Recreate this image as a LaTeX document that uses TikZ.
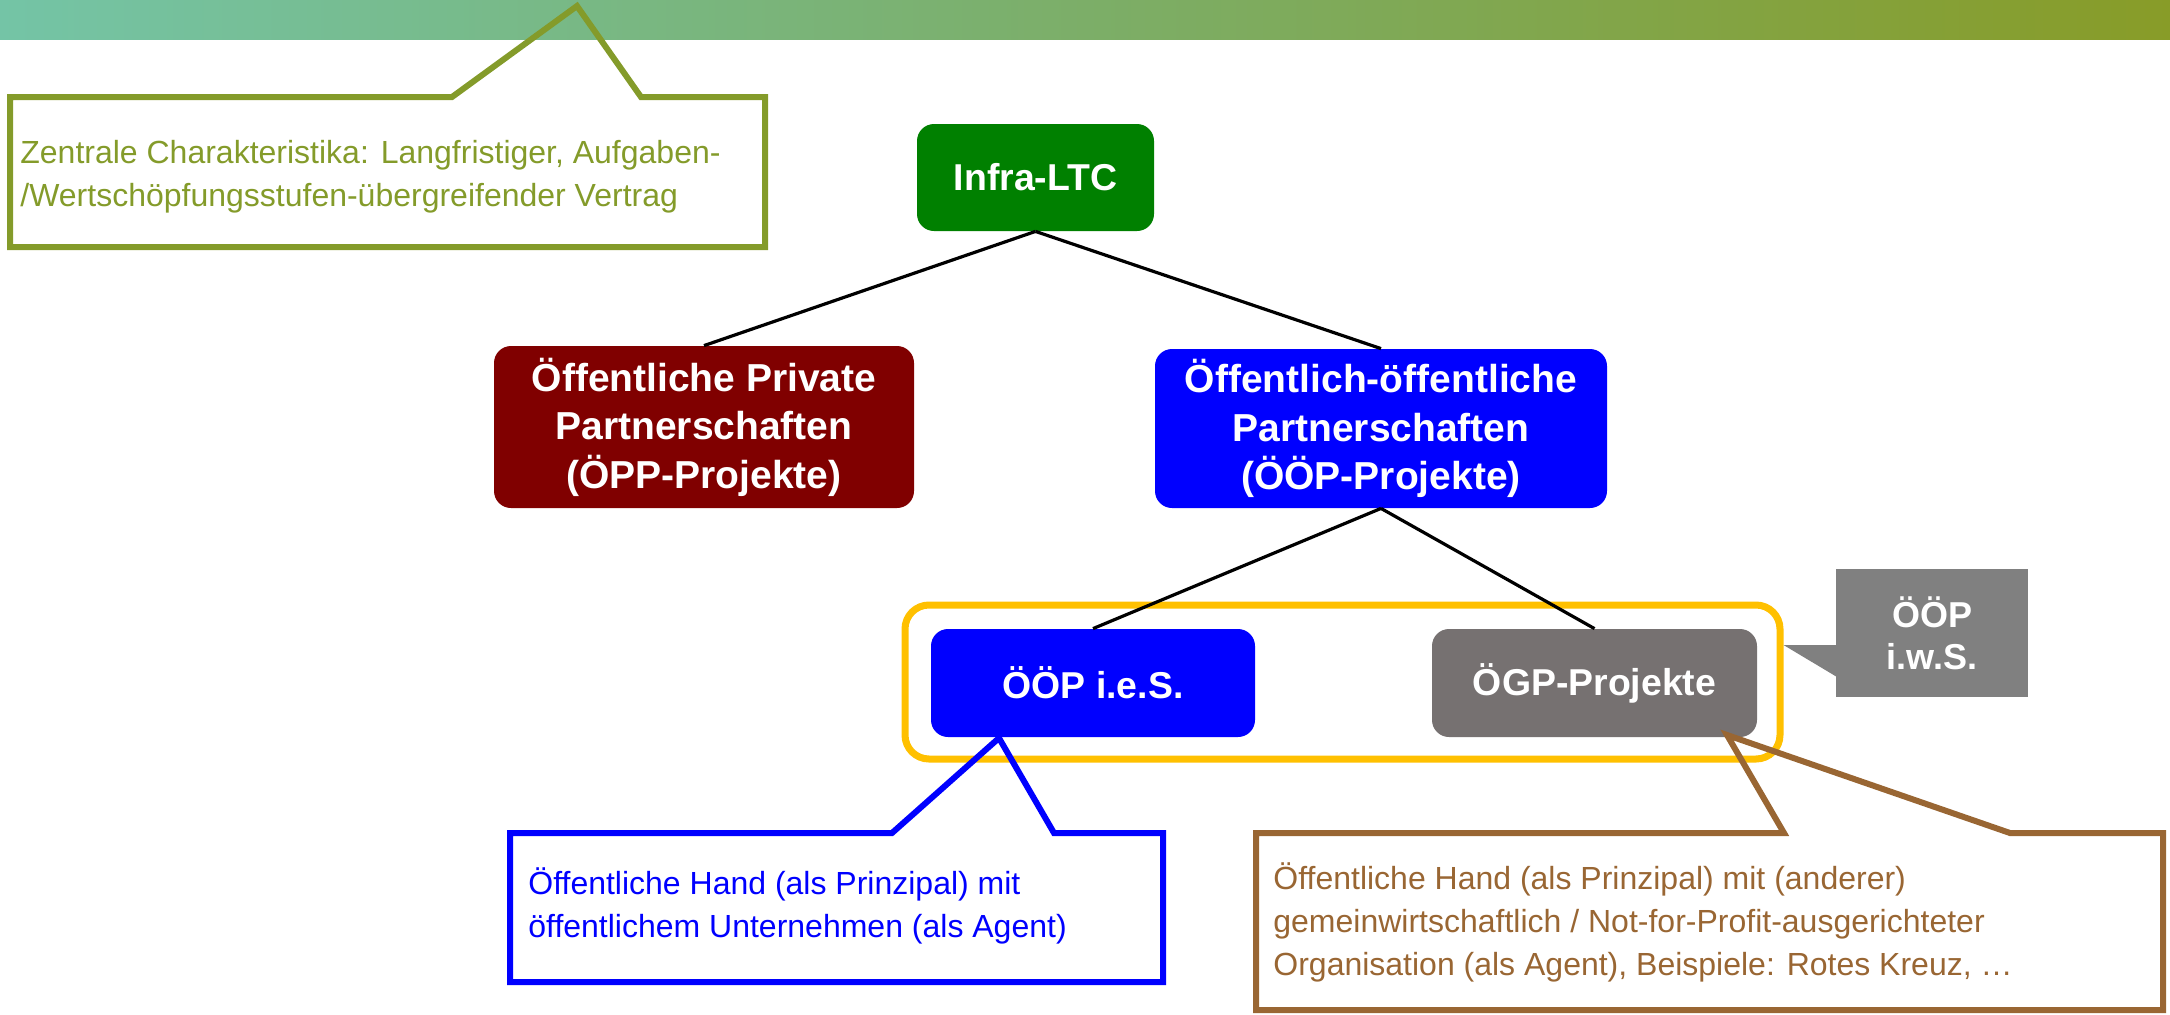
\documentclass[tikz,border=0pt]{standalone}
\usepackage{fontspec}
\setmainfont{Liberation Sans}
\definecolor{barL}{RGB}{116,196,166}
\definecolor{barM}{RGB}{124,174,104}
\definecolor{barR}{RGB}{136,156,40}
\definecolor{olivec}{RGB}{132,155,42}
\definecolor{infragreen}{RGB}{0,128,0}
\definecolor{maroonc}{RGB}{128,0,0}
\definecolor{bluec}{RGB}{0,0,255}
\definecolor{grayboxc}{RGB}{118,113,113}
\definecolor{graycallc}{RGB}{128,128,128}
\definecolor{yellowc}{RGB}{255,192,0}
\definecolor{brownc}{RGB}{153,102,51}
\begin{document}
\begin{tikzpicture}[x=0.5pt,y=-0.5pt,
  boxnode/.style={rounded corners=8.5pt, text=white, align=center, inner sep=0pt,
    font=\bfseries\fontsize{18.7}{24}\selectfont},
  bigbox/.style={boxnode, font=\bfseries\fontsize{19.5}{24.2}\selectfont},
  conn/.style={line width=1.6pt, black},
  callout/.style={line width=3pt, line join=miter},
  calltext/.style={anchor=west, align=left, inner sep=0pt, font=\fontsize{16}{21.5}\selectfont}]
\useasboundingbox (0,0) rectangle (2170,1014);
% top bar
\shade[left color=barL, right color=barR, middle color=barM] (0,0) rectangle (2170,39);
% main nodes
\node[boxnode, fill=infragreen, minimum width=118.5pt, minimum height=53.5pt] (infra) at (1035.5,177.5) {Infra-LTC};
\node[bigbox, fill=maroonc, minimum width=210pt, minimum height=81pt] (oepp) at (704,427) {Öffentliche Private\\Partnerschaften\\(ÖPP-Projekte)};
\node[bigbox, fill=bluec, minimum width=226pt, minimum height=79.5pt] (ooep) at (1381,428.5) {Öffentlich-öffentliche\\Partnerschaften\\(ÖÖP-Projekte)};
\node[boxnode, fill=bluec, minimum width=162pt, minimum height=54pt] (ies) at (1093,683) {ÖÖP i.e.S.};
\node[boxnode, fill=grayboxc, minimum width=162.5pt, minimum height=54pt] (oegp) at (1594.5,683) {ÖGP-Projekte};
% yellow group frame
\node[draw=yellowc, line width=3.5pt, rounded corners=12pt, inner sep=0pt, minimum width=437.5pt, minimum height=77pt] (group) at (1342.5,682) {};
% connectors
\draw[conn] (infra.south) -- (oepp.north);
\draw[conn] (infra.south) -- (ooep.north);
\draw[conn] (ooep.south) -- (ies.north);
\draw[conn] (ooep.south) -- (oegp.north);
% gray callout
\node[fill=graycallc, text=white, align=center, inner sep=0pt, minimum width=96pt, minimum height=64pt,
  font=\bfseries\fontsize{18}{21}\selectfont] (iws) at (1932,633) {ÖÖP\\i.w.S.};
\coordinate (iwstip) at (group.east |- 0,645);
\fill[graycallc] (iwstip) -- (1837,645) -- (1837,677) -- cycle;
% green callout
\coordinate (gtip) at (577,6);
\draw[callout, olivec] (10,97) -- (452,97) -- (gtip) -- (641,97) -- (765,97) -- (765,247) -- (10,247) -- cycle;
\node[calltext, text=olivec] (gtext) at (20,177) {Zentrale Charakteristika: Langfristiger, Aufgaben-\\/Wertschöpfungsstufen-übergreifender Vertrag};
% blue callout
\coordinate (btip) at (999,738);
\draw[callout, bluec] (510,833) -- (892,833) -- (btip) -- (1054,833) -- (1163,833) -- (1163,982) -- (510,982) -- cycle;
\node[calltext, text=bluec] (btext) at (528,906) {Öffentliche Hand (als Prinzipal) mit\\öffentlichem Unternehmen (als Agent)};
% brown callout
\coordinate (brtip) at (1727,735);
\draw[callout, brownc] (1256,833) -- (1784,833) -- (brtip) -- (2010,833) -- (2163,833) -- (2163,1010) -- (1256,1010) -- cycle;
\node[calltext, text=brownc] (brtext) at (1273,922) {Öffentliche Hand (als Prinzipal) mit (anderer)\\gemeinwirtschaftlich / Not-for-Profit-ausgerichteter\\Organisation (als Agent), Beispiele: Rotes Kreuz, …};
\end{tikzpicture}
\end{document}
